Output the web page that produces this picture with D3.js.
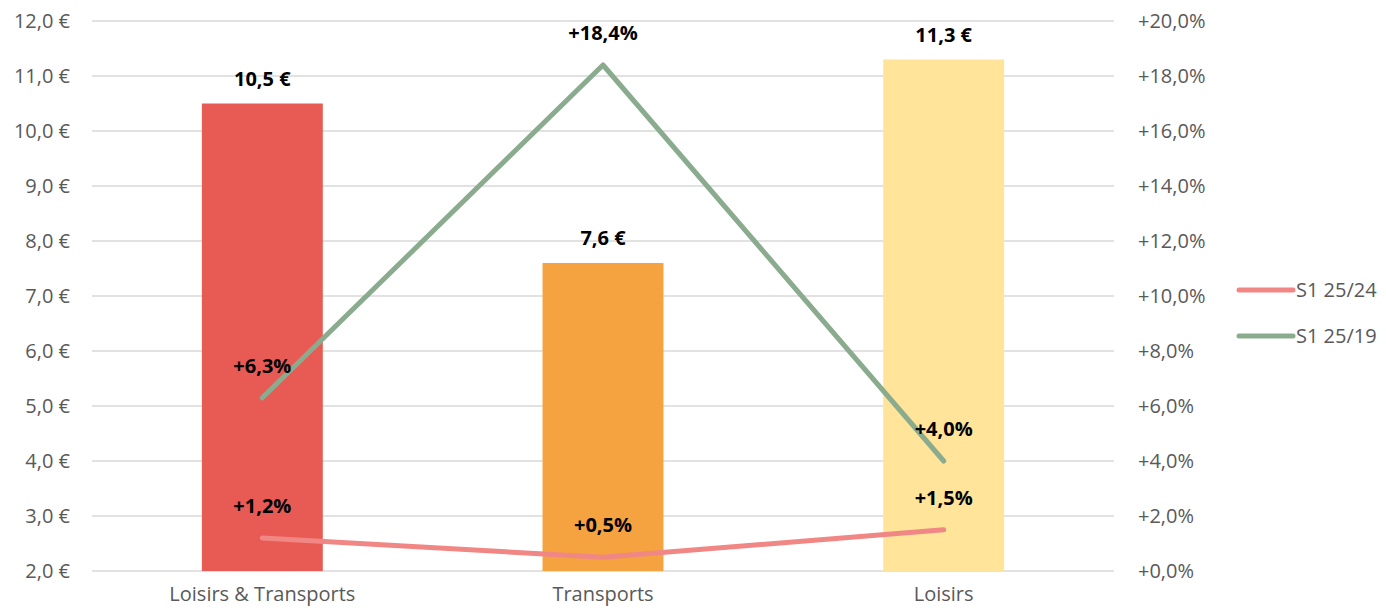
<!DOCTYPE html>
<html>
<head>
<meta charset="utf-8">
<script src="https://cdn.jsdelivr.net/npm/d3@7"></script>
<style>
  body { margin: 0; background: #fff; }
  text { font-family: "Open Sans", "Noto Sans", sans-serif; }
</style>
</head>
<body>
<div id="chart"></div>
<script>
var categories = ["Loisirs & Transports", "Transports", "Loisirs"];
var amounts = [10.5, 7.6, 11.3];
var barColors = ["#E85A54", "#F4A340", "#FFE49A"];
var growth2524 = [1.2, 0.5, 1.5];
var growth2519 = [6.3, 18.4, 4.0];
var seriesNames = ["S1 25/24", "S1 25/19"];
var seriesColors = ["#F08784", "#8AAB8E"];
var leftTicks = [2, 3, 4, 5, 6, 7, 8, 9, 10, 11, 12];
var rightTicks = [0, 2, 4, 6, 8, 10, 12, 14, 16, 18, 20];

var width = 1386, height = 611;
var margin = {top: 21, left: 92, right: 272, bottom: 40};
var plotW = width - margin.left - margin.right,
    plotH = height - margin.top - margin.bottom;
var fontSize = "20px";

var fmt = function(v){ return d3.format(".1f")(v).replace(".", ","); };

var svg = d3.select("#chart").append("svg")
    .attr("width", width)
    .attr("height", height);

var g = svg.append("g")
    .attr("transform", "translate(" + margin.left + "," + margin.top + ")");

var x = d3.scaleBand().domain(categories).range([0, plotW]).paddingInner(0.645).paddingOuter(0.3225);
var y = d3.scaleLinear().domain([2, 12]).range([plotH, 0]);
var y2 = d3.scaleLinear().domain([0, 20]).range([plotH, 0]);

// gridlines
g.selectAll(".grid").data(leftTicks).enter().append("line")
    .attr("x1", 0).attr("x2", plotW)
    .attr("y1", function(d){ return y(d); })
    .attr("y2", function(d){ return y(d); })
    .attr("stroke", "#d9d9d9").attr("stroke-width", 1.5);

// left axis
var yAxis = d3.axisLeft(y).tickValues(leftTicks).tickSize(0).tickPadding(22)
    .tickFormat(function(d){ return fmt(d) + " €"; });
g.append("g").call(yAxis).call(function(a){ a.select(".domain").remove(); })
    .selectAll("text").attr("fill", "#595959").style("font-size", fontSize);

// right axis
var yAxis2 = d3.axisRight(y2).tickValues(rightTicks).tickSize(0).tickPadding(24)
    .tickFormat(function(d){ return "+" + fmt(d) + "%"; });
g.append("g").attr("transform", "translate(" + plotW + ",0)").call(yAxis2)
    .call(function(a){ a.select(".domain").remove(); })
    .selectAll("text").attr("fill", "#595959").style("font-size", fontSize);

// x labels (kept just inside the bottom edge)
var xAxis = d3.axisBottom(x).tickSize(0).tickPadding(16);
g.append("g").attr("transform", "translate(0," + plotH + ")").call(xAxis)
    .call(function(a){ a.select(".domain").remove(); })
    .selectAll("text").attr("fill", "#595959").style("font-size", fontSize);

// bars
g.selectAll(".bar").data(amounts).enter().append("rect")
    .attr("x", function(d, i){ return x(categories[i]); })
    .attr("y", function(d){ return y(d); })
    .attr("width", x.bandwidth())
    .attr("height", function(d){ return plotH - y(d); })
    .attr("fill", function(d, i){ return barColors[i]; });

g.selectAll(".barlabel").data(amounts).enter().append("text")
    .attr("x", function(d, i){ return x(categories[i]) + x.bandwidth() / 2; })
    .attr("y", function(d){ return y(d) - 18; })
    .attr("text-anchor", "middle")
    .style("font-size", fontSize).style("font-weight", "bold")
    .text(function(d){ return fmt(d) + " €"; });

// lines
var lineGen = d3.line()
    .x(function(d, i){ return x(categories[i]) + x.bandwidth() / 2; })
    .y(function(d){ return y2(d); });

[growth2524, growth2519].forEach(function(series, k){
    g.append("path").datum(series)
        .attr("d", lineGen)
        .attr("fill", "none")
        .attr("stroke", seriesColors[k])
        .attr("stroke-width", 5)
        .attr("stroke-linecap", "round")
        .attr("stroke-linejoin", "round");
});

[growth2524, growth2519].forEach(function(series){
    g.selectAll(null).data(series).enter().append("text")
        .attr("x", function(d, i){ return x(categories[i]) + x.bandwidth() / 2; })
        .attr("y", function(d){ return y2(d) - 25; })
        .attr("text-anchor", "middle")
        .style("font-size", fontSize).style("font-weight", "bold")
        .text(function(d){ return "+" + fmt(d) + "%"; });
});

// legend
var legend = svg.selectAll(".legend").data(seriesNames).enter().append("g")
    .attr("transform", function(d, i){ return "translate(1239," + (290 + i * 46) + ")"; });
legend.append("line")
    .attr("x1", 0).attr("x2", 54)
    .attr("stroke", function(d, i){ return seriesColors[i]; })
    .attr("stroke-width", 5).attr("stroke-linecap", "round");
legend.append("text")
    .attr("x", 57).attr("dy", "0.35em")
    .attr("fill", "#595959").style("font-size", fontSize)
    .text(function(d){ return d; });
</script>
</body>
</html>
